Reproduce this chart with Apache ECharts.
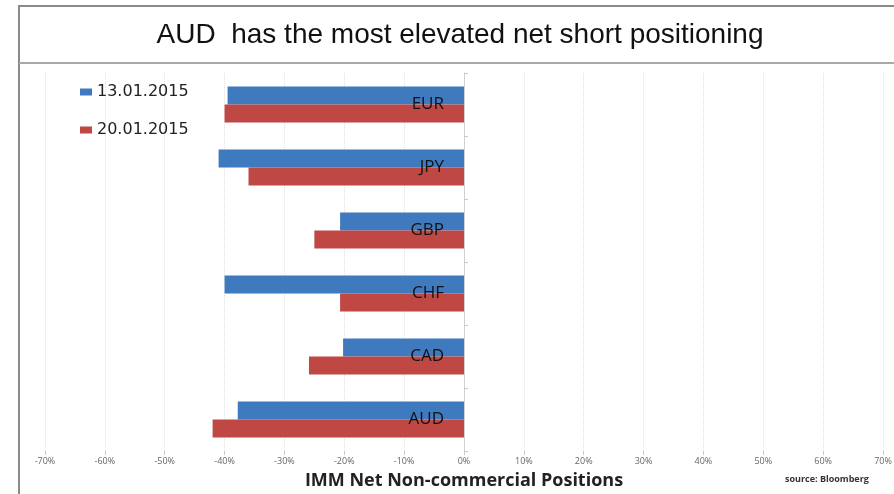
<!DOCTYPE html>
<html><head><meta charset="utf-8">
<script src="https://cdn.jsdelivr.net/npm/echarts@6/dist/echarts.min.js"></script>
<style>html,body{margin:0;padding:0;background:#fff}#c{width:894px;height:494px}</style>
</head><body><div id="c"></div>
<script>
const categories = ['EUR','JPY','GBP','CHF','CAD','AUD'];
const seriesNames = ['13.01.2015','20.01.2015'];
const jan13 = [-39.5, -41, -20.7, -40, -20.2, -37.8];
const jan20 = [-40, -36, -25, -20.7, -25.9, -42];
const xTicks = {min: -70, max: 70, interval: 10};

const W = 894, gridLeft = 45, gridRight = 11;
const zeroOffset = (W - gridLeft - gridRight) * (0 - xTicks.min) / (xTicks.max - xTicks.min);

const chart = echarts.init(document.getElementById('c'));
chart.setOption({
  animation: false,
  backgroundColor: '#fff',
  graphic: [
    {type:'rect', shape:{x:19, y:6, width:900, height:500}, style:{fill:'none', stroke:'#8a8a8a', lineWidth:2}, z:0},
    {type:'line', shape:{x1:19, y1:63, x2:900, y2:63}, style:{stroke:'#a8a8a8', lineWidth:2}},
    {type:'text', x:460, y:35, style:{text:'AUD  has the most elevated net short positioning', font:'28px "Liberation Sans", Arial, sans-serif', fill:'#111', textAlign:'center', textVerticalAlign:'middle'}},
    {type:'text', x:785, y:479, style:{text:'source: Bloomberg', font:'bold 9px "Open Sans", sans-serif', fill:'#333', textAlign:'left', textVerticalAlign:'middle'}}
  ],
  legend: {
    data: seriesNames, orient:'vertical', left: 80, top: 84, padding: 0,
    itemWidth: 12, itemHeight: 7, itemGap: 22, icon: 'rect',
    textStyle: {fontSize: 16, color:'#222', fontFamily:'"DejaVu Sans", sans-serif'}
  },
  grid: {left: gridLeft, right: gridRight, top: 73, bottom: 43, outerBoundsMode: 'none', containLabel: false},
  xAxis: {
    type:'value', min: xTicks.min, max: xTicks.max, interval: xTicks.interval,
    name:'IMM Net Non-commercial Positions', nameLocation:'middle', nameGap: 21,
    nameTextStyle:{fontSize:18, fontWeight:'bold', color:'#222', fontFamily:'"Open Sans", sans-serif'},
    axisLine:{lineStyle:{color:'#d0d0d0'}},
    axisTick:{show:true, length:4, lineStyle:{color:'#c8c8c8'}},
    axisLabel:{formatter:'{value}%', fontSize:9, color:'#666', margin:6, fontFamily:'"Open Sans", sans-serif'},
    splitLine:{show:true, lineStyle:{color:'#e0e0e0', type:'dotted'}}
  },
  yAxis: {
    type:'category', data: categories, inverse:true, z: 10,
    offset: -zeroOffset,
    axisLine:{onZero:false, lineStyle:{color:'#d0d0d0'}},
    axisTick:{show:true, inside:true, length:4, lineStyle:{color:'#c8c8c8'}},
    axisLabel:{fontSize:17, color:'#111', margin:20, fontFamily:'"Open Sans", sans-serif'},
    splitLine:{show:false}
  },
  series: [
    {name: seriesNames[0], type:'bar', data: jan13, barGap:'0%', barCategoryGap:'43%', itemStyle:{color:'#3f79be'}},
    {name: seriesNames[1], type:'bar', data: jan20, barGap:'0%', barCategoryGap:'43%', itemStyle:{color:'#bf4744'}}
  ]
});
</script></body></html>
